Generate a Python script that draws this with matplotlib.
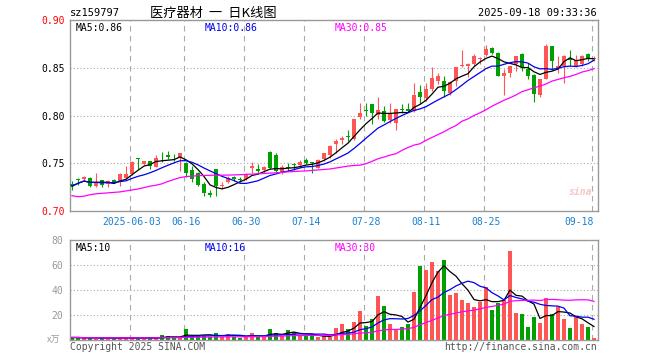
import numpy as np
import pandas as pd
import matplotlib
matplotlib.use("Agg")
import matplotlib.pyplot as plt

plt.rcParams["font.family"] = ["DejaVu Sans Mono", "Noto Sans CJK SC"]

# Daily candles, 2025-05-19 .. 2025-09-18 (88 trading days)
opens = [.728, .734, .733, .735, .726, .732, .728, .732, .731, .735,
         .739, .755, .749, .752, .746, .756, .759, .756, .756, .750,
         .743, .740, .728, .719, .744, .726, .730, .736, .733, .733,
         .745, .744, .743, .762, .759, .741, .7465, .749, .748, .753,
         .751, .745, .754, .759, .770, .774, .779, .775, .798, .806,
         .812, .801, .805, .795, .792, .807, .807, .805, .825, .818,
         .828, .836, .836, .824, .836, .852, .852, .854, .859, .863,
         .871, .865, .841, .845, .854, .864, .849, .842, .821, .838,
         .873, .850, .852, .859, .852, .854, .864, .859]
highs = [.731, .735, .737, .736, .740, .732, .732, .733, .740, .747,
         .752, .755, .752, .752, .759, .762, .763, .760, .761, .751,
         .747, .741, .730, .722, .744, .730, .737, .737, .736, .740,
         .751, .749, .747, .763, .761, .748, .750, .750, .753, .755,
         .751, .754, .761, .769, .775, .779, .785, .796, .813, .813,
         .812, .819, .810, .813, .807, .812, .813, .834, .832, .834,
         .851, .845, .841, .836, .851, .869, .855, .864, .861, .874,
         .872, .866, .849, .852, .862, .865, .855, .843, .838, .875,
         .873, .862, .863, .869, .863, .863, .865, .862]
lows = [.722, .727, .731, .725, .725, .725, .725, .729, .726, .733,
        .738, .744, .748, .744, .746, .751, .754, .752, .742, .736,
        .730, .726, .716, .715, .716, .723, .729, .731, .730, .732,
        .740, .739, .740, .744, .741, .739, .742, .743, .745, .749,
        .740, .745, .752, .756, .761, .770, .773, .774, .796, .800,
        .791, .796, .793, .792, .785, .803, .804, .804, .812, .815,
        .826, .833, .819, .821, .831, .851, .840, .852, .854, .862,
        .864, .841, .821, .840, .847, .847, .838, .814, .819, .838,
        .848, .845, .834, .852, .851, .852, .857, .857]
closes = [.726, .732, .736, .726, .730, .727, .731, .730, .739, .739,
          .751, .754, .752, .747, .755, .755, .757, .755, .761, .740,
          .734, .727, .719, .717, .726, .727, .735, .733, .732, .739,
          .747, .742, .746, .745, .742, .746, .7455, .748, .751, .750,
          .750, .753, .761, .768, .773, .776, .777, .796, .803, .805,
          .803, .806, .794, .803, .807, .806, .805, .821, .819, .828,
          .839, .841, .826, .835, .851, .853, .854, .862, .860, .870,
          .865, .841, .845, .852, .862, .851, .841, .823, .838, .873,
          .857, .852, .862, .858, .858, .862, .859, .860]
# 30-day average as drawn (needs history before the window)
ma30 = [.716, .715, .7155, .717, .718, .7185, .719, .7195, .720, .721,
        .722, .723, .7245, .726, .727, .7285, .731, .733, .735, .736,
        .7365, .737, .7372, .7374, .7375, .7375, .7376, .7378, .738, .7383,
        .7386, .739, .7393, .7397, .740, .7405, .741, .7413, .7417, .742,
        .7425, .743, .7435, .744, .745, .746, .747, .7477, .748, .7495,
        .752, .7547, .7565, .7585, .760, .7635, .7665, .769, .7704, .774,
        .777, .780, .783, .7865, .7895, .794, .7965, .800, .8028, .806,
        .8098, .8128, .816, .8185, .8215, .825, .827, .829, .8308, .833,
        .836, .8378, .8395, .841, .843, .8455, .847, .849]
# volume, 10k shares
volume = [2.0, 2.0, 1.3, 2.0, 1.2, 1.8, 1.2, 1.5, 1.5, 2.4,
          1.5, 1.3, 1.3, 2.2, 1.4, 4.0, 3.3, 1.5, 1.8, 9.0,
          3.2, 3.0, 3.2, 2.6, 5.5, 2.5, 5.0, 2.6, 1.5, 2.8,
          5.5, 2.7, 2.5, 8.8, 5.3, 3.2, 8.0, 6.5, 3.5, 3.2,
          3.0, 2.8, 2.9, 2.7, 9.3, 12.5, 8.5, 14.4, 23.2, 11.2,
          16.5, 35.2, 27.2, 12.8, 8.5, 10.4, 12.8, 38.4, 59.5, 56.0,
          62.4, 55.2, 64.0, 36.0, 37.9, 32.0, 29.3, 26.7, 30.7, 42.7,
          24.0, 29.3, 32.0, 71.5, 21.9, 20.8, 10.7, 18.7, 13.9, 33.6,
          20.8, 26.7, 16.8, 9.9, 18.7, 12.8, 10.7, 1.9]

tick_pos = [10, 19, 29, 39, 49, 59, 69, 87]
tick_labels = ["2025-06-03", "06-16", "06-30", "07-14", "07-28", "08-11", "08-25", "09-18"]
price_ticks = [0.70, 0.75, 0.80, 0.85, 0.90]
vol_ticks = [20, 40, 60, 80]

RED = "#ff5555"
GREEN = "#00a000"
GRID = "#aaaaaa"

df = pd.DataFrame({"open": opens, "high": highs, "low": lows, "close": closes,
                   "ma30": ma30, "vol": volume})
x = np.arange(len(df))
up = df["close"] >= df["open"]
colors = np.where(up, RED, GREEN)
ma5 = df["close"].rolling(5, min_periods=1).mean()
ma10 = df["close"].rolling(10, min_periods=1).mean()
vma5 = df["vol"].rolling(5, min_periods=1).mean()
vma10 = df["vol"].rolling(10, min_periods=1).mean()
vma30 = df["vol"].rolling(30, min_periods=1).mean()

fig = plt.figure(figsize=(6.6, 3.6), dpi=100)
ax = fig.add_axes([70 / 660, 1 - 211 / 360, 528 / 660, 191 / 360])
axv = fig.add_axes([70 / 660, 1 - 340 / 360, 528 / 660, 100 / 360])

for a in (ax, axv):
    a.set_xlim(-0.33, 87.67)
    for s in a.spines.values():
        s.set_color("#999999")
        s.set_linewidth(1)
    a.tick_params(length=0)
    for p in tick_pos:
        a.axvline(p - 0.33, color=GRID, lw=0.8, ls=(0, (5, 4)), zorder=0)

# price panel
ax.set_ylim(0.70, 0.90)
for yv in price_ticks[1:-1]:
    ax.axhline(yv, color=GRID, lw=0.8, ls=(0, (1, 2)), zorder=0)
ax.vlines(x, df["low"], df["high"], colors=colors, lw=0.8, zorder=2)
body = np.maximum((df["close"] - df["open"]).abs(), 0.0007)
ax.bar(x, body, bottom=np.minimum(df["open"], df["close"]), width=0.68,
       color=colors, zorder=3)
ax.plot(x, ma5, color="black", lw=0.9, zorder=4)
ax.plot(x, ma10, color="#0000ee", lw=0.9, zorder=4)
ax.plot(x, df["ma30"], color="#ff00ff", lw=0.9, zorder=4)

ax.set_yticks(price_ticks)
ax.set_yticklabels([f"{v:.2f}" for v in price_ticks], fontsize=7)
for lab, v in zip(ax.get_yticklabels(), price_ticks):
    lab.set_color("#ff0000" if v in (0.70, 0.90) else "#000000")
ax.set_xticks(tick_pos)
ax.set_xticklabels(tick_labels, fontsize=7, color="#1a80d0")
ax.get_xticklabels()[-1].set_horizontalalignment("right")
ax.tick_params(axis="x", pad=4)
ax.tick_params(axis="y", pad=4)

ax.text(0.01, 0.985, "MA5:0.86", transform=ax.transAxes, fontsize=7, va="top")
ax.text(135 / 528, 0.985, "MA10:0.86", transform=ax.transAxes, fontsize=7,
        va="top", color="#0000ee")
ax.text(265 / 528, 0.985, "MA30:0.85", transform=ax.transAxes, fontsize=7,
        va="top", color="#ff00ff")

# volume panel
axv.set_ylim(0, 80)
for yv in vol_ticks[:-1]:
    axv.axhline(yv, color=GRID, lw=0.8, ls=(0, (1, 2)), zorder=0)
axv.bar(x, df["vol"], width=0.68, color=colors, zorder=2)
axv.plot(x, vma5, color="black", lw=0.9, zorder=3)
axv.plot(x, vma10, color="#0000ee", lw=0.9, zorder=3)
axv.plot(x, vma30, color="#ff00ff", lw=0.9, zorder=3)
axv.set_yticks(vol_ticks)
axv.set_yticklabels([str(v) for v in vol_ticks], fontsize=7, color="#999999")
axv.tick_params(axis="y", pad=5)
axv.set_xticks([])
axv.text(0.01, 0.97, "MA5:10", transform=axv.transAxes, fontsize=7, va="top")
axv.text(135 / 528, 0.97, "MA10:16", transform=axv.transAxes, fontsize=7,
         va="top", color="#0000ee")
axv.text(265 / 528, 0.97, "MA30:30", transform=axv.transAxes, fontsize=7,
         va="top", color="#ff00ff")

# header / footer texts
fig.text(70 / 660, 1 - 13 / 360, "sz159797", fontsize=7.5, va="center")
fig.text(213 / 660, 1 - 13 / 360, "医疗器材  一  日K线图", fontsize=9.5,
         va="center", ha="center", family=["Noto Sans CJK SC"])
fig.text(597 / 660, 1 - 13 / 360, "2025-09-18 09:33:36", fontsize=7.5,
         va="center", ha="right")
fig.text(60 / 660, 1 - 340 / 360, "x万", fontsize=6.5, va="center", ha="right",
         color="#999999", family=["Noto Sans CJK SC"])
fig.text(70 / 660, 1 - 347 / 360, "Copyright 2025 SINA.COM", fontsize=7,
         va="center", color="#555555")
fig.text(597 / 660, 1 - 347 / 360, "http://finance.sina.com.cn", fontsize=7,
         va="center", ha="right", color="#555555")
fig.text(580 / 660, 1 - 192 / 360, "sina", fontsize=7, va="center", ha="center",
         color="#f5c8c8", style="italic", weight="bold")

fig.savefig("out.png", dpi=100, facecolor="white")
